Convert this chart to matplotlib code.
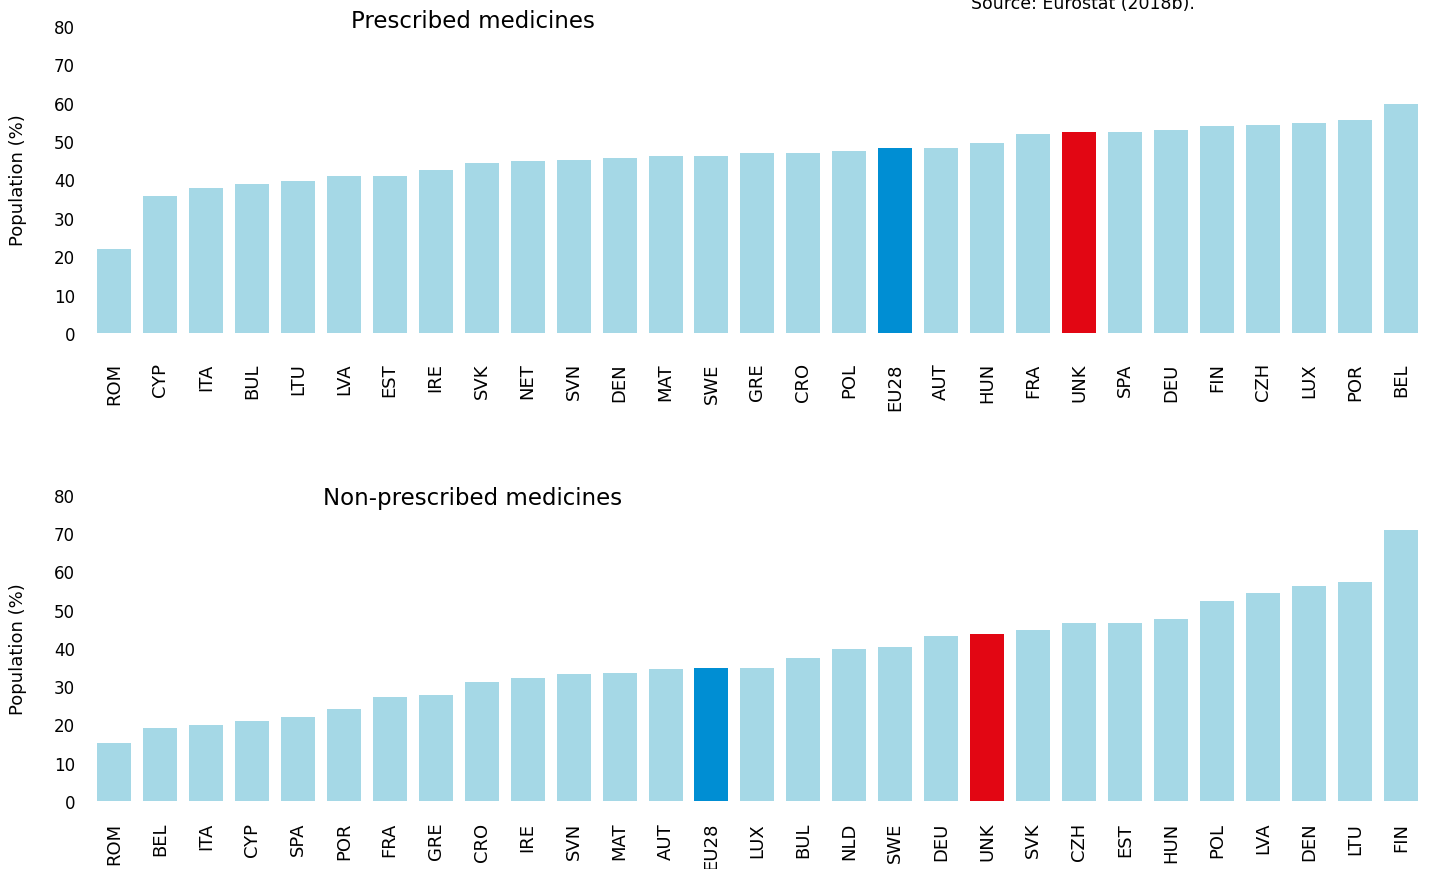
import matplotlib
matplotlib.use("Agg")
import matplotlib.pyplot as plt

# Prescribed medicines (top panel)
presc_labels = ["ROM", "CYP", "ITA", "BUL", "LTU", "LVA", "EST", "IRE", "SVK", "NET",
                "SVN", "DEN", "MAT", "SWE", "GRE", "CRO", "POL", "EU28", "AUT", "HUN",
                "FRA", "UNK", "SPA", "DEU", "FIN", "CZH", "LUX", "POR", "BEL"]
presc_values = [21.8, 35.6, 37.7, 38.7, 39.5, 40.8, 41.0, 42.6, 44.4, 44.9,
                45.2, 45.5, 46.0, 46.2, 46.8, 47.0, 47.3, 48.1, 48.3, 49.4,
                51.9, 52.5, 52.5, 53.0, 54.0, 54.3, 54.8, 55.6, 59.7]

# Non-prescribed medicines (bottom panel)
nonpresc_labels = ["ROM", "BEL", "ITA", "CYP", "SPA", "POR", "FRA", "GRE", "CRO", "IRE",
                   "SVN", "MAT", "AUT", "EU28", "LUX", "BUL", "NLD", "SWE", "DEU", "UNK",
                   "SVK", "CZH", "EST", "HUN", "POL", "LVA", "DEN", "LTU", "FIN"]
nonpresc_values = [15.1, 19.1, 19.8, 20.9, 21.9, 24.0, 27.2, 27.7, 31.1, 32.1,
                   33.2, 33.4, 34.5, 34.7, 34.7, 37.3, 39.7, 40.2, 43.1, 43.6,
                   44.6, 46.5, 46.5, 47.5, 52.2, 54.3, 56.1, 57.2, 70.8]

yticks = [0, 10, 20, 30, 40, 50, 60, 70, 80]

LIGHT = "#a5d8e6"
EU_BLUE = "#008ed3"
UK_RED = "#e20613"


def bar_colour(label):
    if label == "EU28":
        return EU_BLUE
    if label == "UNK":
        return UK_RED
    return LIGHT


def draw_panel(ax, labels, values, xpad):
    xs = range(len(labels))
    ax.bar(xs, values, width=0.74, color=[bar_colour(l) for l in labels])
    ax.set_xlim(-0.5, len(labels) - 0.5)
    ax.set_ylim(0, 80)
    ax.set_yticks(yticks)
    ax.set_xticks(list(xs))
    ax.set_xticklabels(labels, rotation=90, va="top", ha="center", fontsize=13)
    ax.tick_params(axis="x", length=0, pad=xpad)
    ax.tick_params(axis="y", length=0, pad=11.5, labelsize=12)
    for s in ax.spines.values():
        s.set_visible(False)
    ax.set_ylabel("Population (%)", fontsize=13)
    ax.yaxis.set_label_coords(-0.048, 0.5)


fig = plt.figure(figsize=(14.32, 8.70), dpi=100)
ax_top = fig.add_axes([0.0635, 0.6161, 0.9309, 0.3529])
ax_bot = fig.add_axes([0.0635, 0.0782, 0.9309, 0.3517])

draw_panel(ax_top, presc_labels, presc_values, 21)
draw_panel(ax_bot, nonpresc_labels, nonpresc_values, 15)

fig.text(0.3303, 1 - 21 / 870, "Prescribed medicines", fontsize=16.5, ha="center", va="center")
fig.text(0.3303, 1 - 499 / 870, "Non-prescribed medicines", fontsize=16.5, ha="center", va="center")
fig.text(1083 / 1432, 1 - 9 / 870, "Source: Eurostat (2018b).", fontsize=12.5, ha="center", va="baseline")

fig.savefig("out.png", dpi=100)
